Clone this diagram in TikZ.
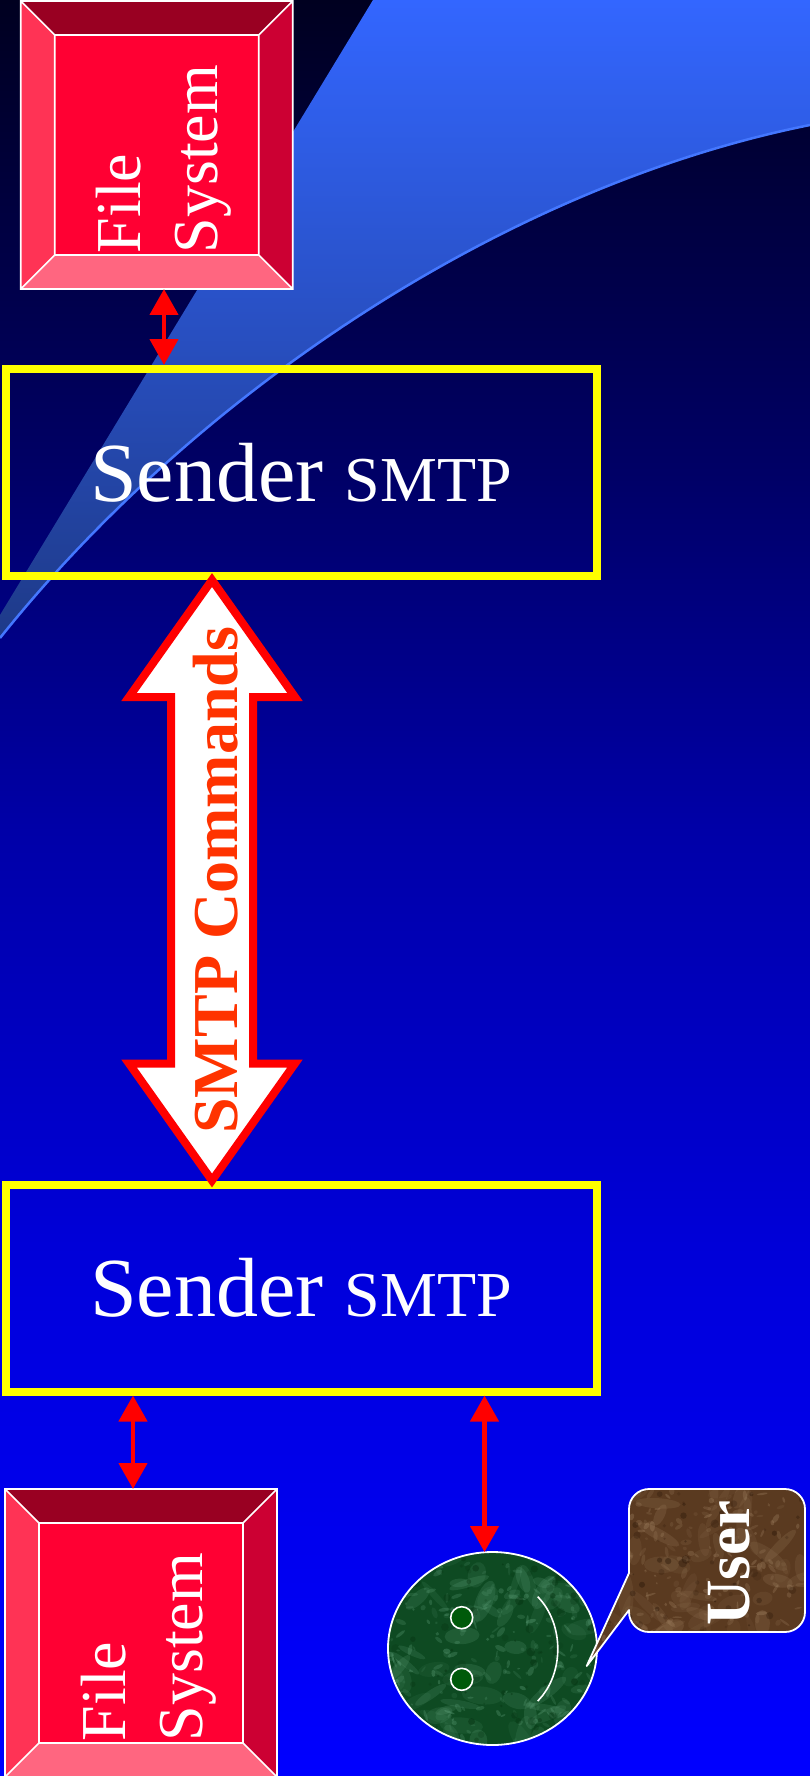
\documentclass[tikz,border=0pt]{standalone}
\usepackage{fontspec}
\setmainfont{Liberation Serif}
\usetikzlibrary{arrows.meta,calc,shapes.geometric}

% palette
\definecolor{bgA}{HTML}{0000FF}
\definecolor{bgB}{HTML}{0000DD}
\definecolor{bgC}{HTML}{0000A8}
\definecolor{bgD}{HTML}{000066}
\definecolor{bgE}{HTML}{000020}
\definecolor{fstop}{HTML}{990022}
\definecolor{fsleft}{HTML}{FF3355}
\definecolor{fsright}{HTML}{CC0033}
\definecolor{fsbottom}{HTML}{FF6680}
\definecolor{fsfacecol}{HTML}{FF0033}
\definecolor{boxyellow}{HTML}{FFFF00}
\definecolor{linkred}{HTML}{FF0000}
\definecolor{cmdred}{HTML}{FF3300}
\definecolor{swooshtop}{HTML}{3366FF}
\definecolor{swooshbot}{HTML}{1E3A88}
\definecolor{swooshline}{HTML}{4477FF}
\definecolor{facegreen}{HTML}{0E4A22}
\definecolor{marblelight}{HTML}{5FA07A}
\definecolor{marbledark}{HTML}{04300F}
\definecolor{eyegreen}{HTML}{005A0A}
\definecolor{bubblebrown}{HTML}{5A3A20}
\definecolor{bubblelight}{HTML}{A08262}
\definecolor{bubbledark}{HTML}{2A1608}

% night-to-blue backdrop
\pgfdeclareverticalshading{skyfade}{100bp}{%
  color(0bp)=(bgA); color(25bp)=(bgA); color(38.7bp)=(bgB);
  color(51.6bp)=(bgC); color(61.7bp)=(bgD); color(75bp)=(bgE);
  color(100bp)=(bgE)}

% bevelled "File System" block; #1 node name, (#2,#3) top-left corner
\newcommand\filesys[3]{%
  \begin{scope}[shift={(#2,#3)}]
    \fill[fstop] (0,0) -- (272,0) -- (238,34) -- (34,34) -- cycle;
    \fill[fsleft] (0,0) -- (34,34) -- (34,254) -- (0,288) -- cycle;
    \fill[fsright] (272,0) -- (272,288) -- (238,254) -- (238,34) -- cycle;
    \fill[fsbottom] (0,288) -- (34,254) -- (238,254) -- (272,288) -- cycle;
    \fill[fsfacecol] (34,34) rectangle (238,254);
    \node[fsblock] (#1) at (136,144) {};
    \draw[fsedge] (0,0) rectangle (272,288) (34,34) rectangle (238,254)
      (0,0) -- (34,34) (272,0) -- (238,34)
      (0,288) -- (34,254) (272,288) -- (238,254);
    \node[fstext] (#1-a) at (120,252.5) {File};
    \node[fstext] (#1-b) at (197,252.5) {System};
  \end{scope}}

% speech bubble outline next to the face
\newcommand\bubble{(649,1489) -- (785,1489)
  arc[start angle=-90, end angle=0, radius=20] -- (805,1612)
  arc[start angle=0, end angle=90, radius=20] -- (649,1632)
  arc[start angle=90, end angle=180, radius=20] -- (629,1610)
  -- (586.7,1666) -- (629,1573) -- (629,1509)
  arc[start angle=180, end angle=270, radius=20] -- cycle}

% mottled texture inside the current clip: #1 light colour, #2 dark colour,
% #3 x origin, #4 y origin, #5 width, #6 height
\newcommand\mottle[6]{%
  \foreach \k in {1,...,70}{
    \pgfmathsetmacro\px{#3+#5*rnd}
    \pgfmathsetmacro\py{#4+#6*rnd}
    \pgfmathsetmacro\ra{8+16*rnd}
    \pgfmathsetmacro\rb{3+6*rnd}
    \pgfmathsetmacro\ang{180*rnd}
    \pgfmathsetmacro\op{0.08+0.14*rnd}
    \fill[#1, opacity=\op, rotate around={\ang:(\px,\py)}]
      (\px,\py) ellipse [x radius=\ra, y radius=\rb];
  }
  \foreach \k in {1,...,220}{
    \pgfmathsetmacro\px{#3+#5*rnd}
    \pgfmathsetmacro\py{#4+#6*rnd}
    \pgfmathsetmacro\ra{1+5*rnd}
    \pgfmathsetmacro\rb{0.8+2*rnd}
    \pgfmathsetmacro\ang{180*rnd}
    \pgfmathsetmacro\op{0.12+0.25*rnd}
    \fill[#1, opacity=\op, rotate around={\ang:(\px,\py)}]
      (\px,\py) ellipse [x radius=\ra, y radius=\rb];
  }
  \foreach \k in {1,...,90}{
    \pgfmathsetmacro\px{#3+#5*rnd}
    \pgfmathsetmacro\py{#4+#6*rnd}
    \pgfmathsetmacro\ra{1+3.5*rnd}
    \pgfmathsetmacro\op{0.15+0.3*rnd}
    \fill[#2, opacity=\op] (\px,\py) circle [radius=\ra];
  }}

\begin{document}
\begin{tikzpicture}[x=1pt, y=-1pt,
  senderbox/.style={draw=boxyellow, line width=8pt, minimum width=591pt,
    minimum height=207pt, inner sep=0pt, text=white},
  link/.style={draw=linkred, line width=4.5pt,
    {Triangle[width=28pt,length=26pt]}-{Triangle[width=28pt,length=26pt]}},
  bigarrow/.style={draw=linkred, fill=white, line width=8pt, miter limit=20},
  fsblock/.style={rectangle, minimum width=272pt, minimum height=288pt,
    inner sep=0pt, outer sep=0pt},
  fsedge/.style={draw=white, line width=1.6pt},
  fstext/.style={text=white, font=\fontsize{64}{77}\selectfont, rotate=90,
    anchor=base west, inner sep=0pt},
  eye/.style={circle, minimum size=22pt, inner sep=0pt, fill=eyegreen,
    draw=white, line width=1.6pt},
]
\useasboundingbox (0,0) rectangle (810,1776);

% backdrop and light swoosh
\shade[shading=skyfade] (0,0) rectangle (810,1776);
\shade[top color=swooshtop, bottom color=swooshbot]
  (373,0) -- (810,0) -- (810,125) .. controls (510,185) and (200,388) .. (0,638)
  -- (0,615) -- cycle;
\draw[swooshline, line width=2.5pt]
  (810,125) .. controls (510,185) and (200,388) .. (0,638);

% file systems
\filesys{fsA}{20.7}{1}
\filesys{fsB}{5}{1489}

% SMTP endpoints
\node[senderbox] (box1) at (301,472.5)
  {\fontsize{84}{100}\selectfont Sender \fontsize{64}{77}\selectfont SMTP};
\node[senderbox] (box2) at (301,1288)
  {\fontsize{84}{100}\selectfont Sender \fontsize{64}{77}\selectfont SMTP};

% user face
\node[ellipse, minimum width=209pt, minimum height=193pt, inner sep=0pt,
  outer sep=0pt, fill=facegreen] (face) at (492.5,1648.5) {};
\begin{scope}
  \clip (face.center) ellipse [x radius=104.5, y radius=96.5];
  \pgfmathsetseed{12}
  \mottle{marblelight}{marbledark}{388}{1552}{209}{193}
\end{scope}
\draw[white, line width=1.8pt] (face.center) ellipse [x radius=104.5, y radius=96.5];
\begin{scope}[shift={(face.center)}]
  \node[eye] (eyeA) at (-30.8,-30.8) {};
  \node[eye] (eyeB) at (-30.8,30.8) {};
  \draw[white, line width=1.6pt] (45.2,-51.8) .. controls (72,-24.5) and (72,25.5) .. (45.2,52.5);
\end{scope}

% speech bubble
\fill[bubblebrown] \bubble;
\begin{scope}
  \clip \bubble;
  \pgfmathsetseed{31}
  \mottle{bubblelight}{bubbledark}{586}{1489}{219}{177}
\end{scope}
\draw[white, line width=1.8pt, line join=round] \bubble;
\node[text=white, font=\fontsize{63}{70}\selectfont\bfseries, rotate=90,
  anchor=base, inner sep=0pt] (user) at (749,1563) {User};

% connectors
\coordinate (ua) at (164,0);
\coordinate (lb) at (133,0);
\coordinate (rb) at (484.5,0);
\coordinate (ax) at (212,0);
\draw[link] (fsA.south -| ua) -- (box1.north -| ua);
\draw[link] (box2.south -| lb) -- (fsB.north -| lb);
\draw[link] (box2.south -| rb) -- (face.north -| rb);

% SMTP command channel
\path (box1.south -| ax) coordinate (bt) (box2.north -| ax) coordinate (bb);
\draw[bigarrow] (bt) -- ($(bt)+(83,117)$) -- ($(bt)+(41,117)$)
  -- ($(bb)+(41,-117)$) -- ($(bb)+(83,-117)$) -- (bb)
  -- ($(bb)+(-83,-117)$) -- ($(bb)+(-41,-117)$)
  -- ($(bt)+(-41,117)$) -- ($(bt)+(-83,117)$) -- cycle;
\node[text=cmdred, font=\fontsize{64}{70}\selectfont\bfseries, rotate=90,
  anchor=base, inner sep=0pt] (cmd) at ($(bt)!0.5!(bb)+(25,0)$) {SMTP Commands};
\end{tikzpicture}
\end{document}
